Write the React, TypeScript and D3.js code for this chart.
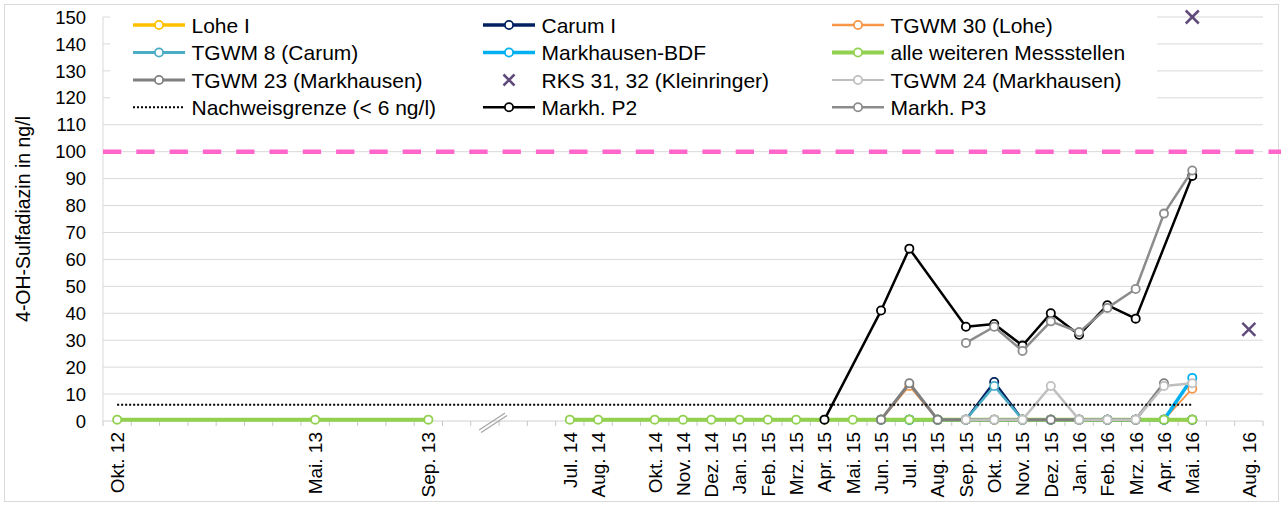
import React from "react";
import * as d3 from "d3";

// Category axis (with a compressed break between Sep. 13 and Jul. 14)
const categoryLabels: string[] = [
  "Okt. 12", "", "", "", "", "", "", "Mai. 13", "", "", "", "Sep. 13", "", "", "", "",
  "Jul. 14", "Aug. 14", "", "Okt. 14", "Nov. 14", "Dez. 14", "Jan. 15", "Feb. 15", "Mrz. 15",
  "Apr. 15", "Mai. 15", "Jun. 15", "Jul. 15", "Aug. 15", "Sep. 15", "Okt. 15", "Nov. 15",
  "Dez. 15", "Jan. 16", "Feb. 16", "Mrz. 16", "Apr. 16", "Mai. 16", "", "Aug. 16",
];

const yTicks = [0, 10, 20, 30, 40, 50, 60, 70, 80, 90, 100, 110, 120, 130, 140, 150];

type Pt = [string, number | null];
const GAP: Pt = ["", null];

// Values below the detection limit are plotted just above zero
const loheI: Pt[] = [
  ["Jun. 15", 0.5], ["Jul. 15", 0.5], ["Aug. 15", 0.5], ["Sep. 15", 0.5], ["Okt. 15", 0.5],
  ["Nov. 15", 0.5], ["Dez. 15", 0.5], ["Jan. 16", 0.5], ["Feb. 16", 0.5], ["Mrz. 16", 0.5],
  ["Apr. 16", 0.5], ["Mai. 16", 0.5],
];
const carumI: Pt[] = [
  ["Jun. 15", 0.5], ["Jul. 15", 0.5], ["Aug. 15", 0.5], ["Sep. 15", 0.5], ["Okt. 15", 14.5],
  ["Nov. 15", 0.5], ["Dez. 15", 0.5], ["Jan. 16", 0.5], ["Feb. 16", 0.5], ["Mrz. 16", 0.5],
  ["Apr. 16", 0.5], ["Mai. 16", 0.5],
];
const tgwm30: Pt[] = [
  ["Jun. 15", 0.5], ["Jul. 15", 13], ["Aug. 15", 0.5], ["Sep. 15", 0.5], ["Okt. 15", 0.5],
  ["Nov. 15", 0.5], ["Dez. 15", 0.5], ["Jan. 16", 0.5], ["Feb. 16", 0.5], ["Mrz. 16", 0.5],
  ["Apr. 16", 0.5], ["Mai. 16", 12],
];
const tgwm8: Pt[] = [
  ["Jun. 15", 0.5], ["Jul. 15", 0.5], ["Aug. 15", 0.5], ["Sep. 15", 0.5], ["Okt. 15", 13],
  ["Nov. 15", 0.5], ["Dez. 15", 0.5], ["Jan. 16", 0.5], ["Feb. 16", 0.5], ["Mrz. 16", 0.5],
  ["Apr. 16", 0.5], ["Mai. 16", 0.5],
];
const markhausenBDF: Pt[] = [
  ["Jun. 15", 0.5], ["Jul. 15", 0.5], ["Aug. 15", 0.5], ["Sep. 15", 0.5], ["Okt. 15", 0.5],
  ["Nov. 15", 0.5], ["Dez. 15", 0.5], ["Jan. 16", 0.5], ["Feb. 16", 0.5], ["Mrz. 16", 0.5],
  ["Apr. 16", 0.5], ["Mai. 16", 16],
];
const alleWeiteren: Pt[] = [
  ["Okt. 12", 0.5], ["Mai. 13", 0.5], ["Sep. 13", 0.5], GAP,
  ["Jul. 14", 0.5], ["Aug. 14", 0.5], ["Okt. 14", 0.5], ["Nov. 14", 0.5], ["Dez. 14", 0.5],
  ["Jan. 15", 0.5], ["Feb. 15", 0.5], ["Mrz. 15", 0.5], ["Apr. 15", 0.5], ["Mai. 15", 0.5],
  ["Jun. 15", 0.5], ["Jul. 15", 0.5], ["Aug. 15", 0.5], ["Sep. 15", 0.5], ["Okt. 15", 0.5],
  ["Nov. 15", 0.5], ["Dez. 15", 0.5], ["Jan. 16", 0.5], ["Feb. 16", 0.5], ["Mrz. 16", 0.5],
  ["Apr. 16", 0.5], ["Mai. 16", 0.5],
];
const tgwm23: Pt[] = [
  ["Jun. 15", 0.5], ["Jul. 15", 14], ["Aug. 15", 0.5], ["Sep. 15", 0.5], ["Okt. 15", 0.5],
  ["Nov. 15", 0.5], ["Dez. 15", 0.5], ["Jan. 16", 0.5], ["Feb. 16", 0.5], ["Mrz. 16", 0.5],
  ["Apr. 16", 14],
];
const rks: Pt[] = [["Mai. 16", 150], ["Aug. 16", 34]];
const tgwm24: Pt[] = [
  ["Sep. 15", 0.5], ["Okt. 15", 0.5], ["Nov. 15", 0.5], ["Dez. 15", 13], ["Jan. 16", 0.5],
  ["Feb. 16", 0.5], ["Mrz. 16", 0.5], ["Apr. 16", 13], ["Mai. 16", 14],
];
const nachweisgrenze: Pt[] = [
  ["Okt. 12", 6], ["Mai. 13", 6], ["Sep. 13", 6], ["Jul. 14", 6], ["Mai. 16", 6],
];
const markhP2: Pt[] = [
  ["Apr. 15", 0.5], ["Jun. 15", 41], ["Jul. 15", 64], ["Sep. 15", 35], ["Okt. 15", 36],
  ["Nov. 15", 28], ["Dez. 15", 40], ["Jan. 16", 32], ["Feb. 16", 43], ["Mrz. 16", 38],
  ["Mai. 16", 91],
];
const markhP3: Pt[] = [
  ["Sep. 15", 29], ["Okt. 15", 35], ["Nov. 15", 26], ["Dez. 15", 37], ["Jan. 16", 33],
  ["Feb. 16", 42], ["Mrz. 16", 49], ["Apr. 16", 77], ["Mai. 16", 93],
];

const zielwert = 100;

type Spec = {
  name: string;
  data: Pt[];
  color: string;
  width: number;
  legendWidth: number;
  kind: "line" | "cross" | "dotted";
};

// Drawn in this order; the legend lists them row by row in the same order
const series: Spec[] = [
  { name: "Lohe I", data: loheI, color: "#FFC000", width: 3, legendWidth: 3.5, kind: "line" },
  { name: "Carum I", data: carumI, color: "#002060", width: 2.5, legendWidth: 3.5, kind: "line" },
  { name: "TGWM 30 (Lohe)", data: tgwm30, color: "#F79646", width: 1.8, legendWidth: 2.5, kind: "line" },
  { name: "TGWM 8 (Carum)", data: tgwm8, color: "#4BACC6", width: 2.5, legendWidth: 3, kind: "line" },
  { name: "Markhausen-BDF", data: markhausenBDF, color: "#00B0F0", width: 3.5, legendWidth: 3.5, kind: "line" },
  { name: "alle weiteren Messstellen", data: alleWeiteren, color: "#92D050", width: 4, legendWidth: 4, kind: "line" },
  { name: "TGWM 23 (Markhausen)", data: tgwm23, color: "#7F7F7F", width: 3, legendWidth: 3, kind: "line" },
  { name: "RKS 31, 32 (Kleinringer)", data: rks, color: "#604A7B", width: 2.5, legendWidth: 2.5, kind: "cross" },
  { name: "TGWM 24 (Markhausen)", data: tgwm24, color: "#BFBFBF", width: 2.5, legendWidth: 2, kind: "line" },
  { name: "Nachweisgrenze (< 6 ng/l)", data: nachweisgrenze, color: "#000000", width: 2, legendWidth: 2, kind: "dotted" },
  { name: "Markh. P2", data: markhP2, color: "#000000", width: 2.5, legendWidth: 2.5, kind: "line" },
  { name: "Markh. P3", data: markhP3, color: "#8C8C8C", width: 2.5, legendWidth: 2.5, kind: "line" },
];

const W = 1285;
const H = 506;
const M = { left: 103, right: 1263, top: 17, bottom: 421 };
const FONT = "'Liberation Sans', Arial, sans-serif";

export default function App() {
  const x = d3
    .scaleBand<number>()
    .domain(d3.range(categoryLabels.length))
    .range([M.left, M.right]);
  const y = d3.scaleLinear().domain([0, 150]).range([M.bottom, M.top]);
  const cx = (label: string) => (x(categoryLabels.indexOf(label)) as number) + x.bandwidth() / 2;

  const line = d3
    .line<Pt>()
    .defined((d) => d[1] !== null)
    .x((d) => cx(d[0]))
    .y((d) => y(d[1] as number));

  const boundaries = d3.range(categoryLabels.length + 1).map((i) => M.left + i * x.bandwidth());

  const legendCols = [133, 483, 832];
  const legendRows = [25, 52.5, 80, 107.3];
  const lineLen = 52;

  const markerR = 4.1;

  const cross = (px: number, py: number, s: number) =>
    `M${px - s},${py - s}L${px + s},${py + s}M${px - s},${py + s}L${px + s},${py - s}`;

  // axis break marks, placed in the compressed stretch between Sep. 13 and Jul. 14
  const bx = (cx("Sep. 13") + cx("Jul. 14")) / 2 - 6;

  return (
    <svg
      width={W}
      height={H}
      style={{ position: "absolute", left: 0, top: 0, background: "#fff" }}
      fontFamily={FONT}
    >
      <rect x={0} y={0} width={W} height={H} fill="#fff" />
      <rect x={4.5} y={4.5} width={1274} height={497} fill="none" stroke="#D9D9D9" strokeWidth={1} />

      {/* gridlines */}
      {yTicks
        .filter((t) => t > 0)
        .map((t) => (
          <line key={t} x1={M.left} x2={M.right} y1={y(t)} y2={y(t)} stroke="#D9D9D9" strokeWidth={1} />
        ))}

      {/* y axis */}
      <line x1={M.left} x2={M.left} y1={M.top} y2={M.bottom} stroke="#D9D9D9" strokeWidth={1} />
      {yTicks.map((t) => (
        <text key={t} x={86} y={y(t)} dy="0.36em" textAnchor="end" fontSize={18.5} fill="#000">
          {t}
        </text>
      ))}
      <text
        transform={`translate(23,${(M.top + M.bottom) / 2}) rotate(-90)`}
        textAnchor="middle"
        dy="0.36em"
        fontSize={19.5}
        fill="#000"
      >
        4-OH-Sulfadiazin in ng/l
      </text>

      {/* x axis */}
      <line x1={M.left} x2={M.right} y1={M.bottom} y2={M.bottom} stroke="#D0D0D0" strokeWidth={1} />
      {boundaries.map((bxv, i) => (
        <line key={i} x1={bxv} x2={bxv} y1={M.bottom} y2={M.bottom + 5} stroke="#C8C8C8" strokeWidth={1} />
      ))}
      {categoryLabels.map((lab, i) =>
        lab ? (
          <text
            key={i}
            transform={`translate(${(x(i) as number) + x.bandwidth() / 2},${M.bottom + 11}) rotate(-90)`}
            textAnchor="end"
            dy="0.36em"
            fontSize={19}
            fill="#000"
          >
            {lab}
          </text>
        ) : null
      )}
      <g stroke="#A6A6A6" strokeWidth={1.3}>
        <line x1={bx - 14} y1={M.bottom + 9} x2={bx + 12} y2={M.bottom - 8} />
        <line x1={bx - 12} y1={M.bottom + 11.5} x2={bx + 14} y2={M.bottom - 5.5} />
      </g>

      {/* reference value */}
      <line
        x1={M.left}
        x2={1281}
        y1={y(zielwert)}
        y2={y(zielwert)}
        stroke="#FF66CC"
        strokeWidth={4.5}
        strokeDasharray="18.3,15"
      />

      {/* series */}
      {series.map((s) => (
        <g key={s.name}>
          {s.kind === "line" && (
            <>
              <path d={line(s.data) || ""} fill="none" stroke={s.color} strokeWidth={s.width} strokeLinejoin="round" />
              {s.data
                .filter((d) => d[1] !== null)
                .map((d, i) => (
                  <circle
                    key={i}
                    cx={cx(d[0])}
                    cy={y(d[1] as number)}
                    r={markerR}
                    fill="#fff"
                    stroke={s.color}
                    strokeWidth={1.8}
                  />
                ))}
            </>
          )}
          {s.kind === "dotted" && (
            <path d={line(s.data) || ""} fill="none" stroke={s.color} strokeWidth={s.width} strokeDasharray="2,2" />
          )}
          {s.kind === "cross" &&
            s.data.map((d, i) => (
              <path key={i} d={cross(cx(d[0]), y(d[1] as number), 6.5)} stroke={s.color} strokeWidth={s.width} fill="none" />
            ))}
        </g>
      ))}

      {/* legend */}
      <rect x={110} y={9} width={1047} height={112} fill="#fff" />
      {series.map((s, i) => {
        const lx = legendCols[i % 3];
        const ly = legendRows[Math.floor(i / 3)];
        const mid = lx + lineLen / 2;
        return (
          <g key={s.name}>
            {s.kind === "line" && (
              <>
                <line x1={lx} x2={lx + lineLen} y1={ly} y2={ly} stroke={s.color} strokeWidth={s.legendWidth} />
                <circle cx={mid} cy={ly} r={markerR} fill="#fff" stroke={s.color} strokeWidth={1.8} />
              </>
            )}
            {s.kind === "dotted" && (
              <line
                x1={lx}
                x2={lx + lineLen}
                y1={ly}
                y2={ly}
                stroke={s.color}
                strokeWidth={2}
                strokeDasharray="2,2"
              />
            )}
            {s.kind === "cross" && (
              <path d={cross(mid, ly, 5.5)} stroke={s.color} strokeWidth={2.5} fill="none" />
            )}
            <text x={lx + lineLen + 6.5} y={ly} dy="0.36em" fontSize={21} fill="#000">
              {s.name}
            </text>
          </g>
        );
      })}
    </svg>
  );
}
